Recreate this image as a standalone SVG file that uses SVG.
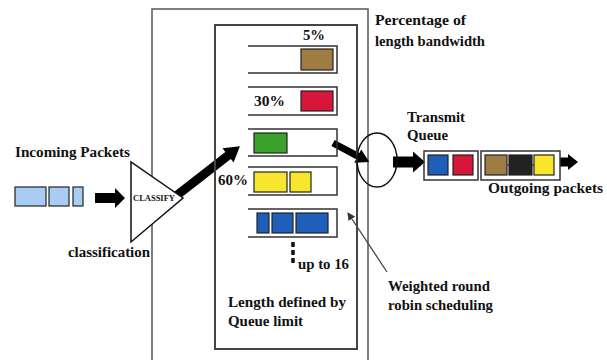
<svg xmlns="http://www.w3.org/2000/svg" width="607" height="360" viewBox="0 0 607 360">
<defs>
<style>
.t{font-family:"Liberation Serif","DejaVu Serif","Times New Roman",serif;font-weight:bold;font-size:14px;fill:#111}
.frame{fill:none;stroke:#555;stroke-width:1.5}
.bar{fill:none;stroke:#333;stroke-width:1.5}
.pk{stroke:#222;stroke-width:1.2}
.arr{fill:#000}
</style>
<marker id="ah" markerWidth="8" markerHeight="8" refX="7" refY="4" orient="auto" markerUnits="userSpaceOnUse">
<path d="M0,0 L8,4 L0,8 Z" fill="#333"/>
</marker>
</defs>
<rect width="607" height="360" fill="#fff"/>

<g id="router-frame">
<path class="frame" d="M152,360 V9 H368 V360"/>
</g>

<g id="connectors">
<polygon class="arr" points="95,193 115,193 115,188 125,198 115,208 115,203 95,203"/>
<polygon class="arr" transform="translate(176,196) rotate(-37.9)" points="0,-4.5 66,-4.5 66,-9 81,0 66,9 66,4.5 0,4.5"/>
<polygon class="arr" transform="translate(333,143) rotate(27.8)" points="0,-3.5 28,-3.5 28,-7.5 41,0 28,7.5 28,3.5 0,3.5"/>
<polygon class="arr" points="393,156.5 413,156.5 413,151.5 425,162 413,172.5 413,167.5 393,167.5"/>
<polygon class="arr" points="560,157.5 568,157.5 568,154 578,162 568,170 568,166.5 560,166.5"/>
<line x1="387" y1="272" x2="348" y2="213" stroke="#444" stroke-width="1.3" marker-end="url(#ah)"/>
</g>

<g id="queues">
<rect x="215" y="25" width="142" height="324" fill="none" stroke="#444" stroke-width="2"/>
<path class="bar" d="M248,46 H337 V73 H248"/>
<rect class="pk" x="301" y="49" width="32" height="21" fill="#a07c45"/>
<text class="t" x="303" y="40" textLength="22" lengthAdjust="spacingAndGlyphs">5%</text>
<path class="bar" d="M248,87 H337 V115 H248"/>
<rect class="pk" x="301" y="91" width="32" height="20" fill="#d8163a"/>
<text class="t" x="254" y="106" textLength="31" lengthAdjust="spacingAndGlyphs">30%</text>
<path class="bar" d="M248,129 H337 V156 H248"/>
<rect class="pk" x="254" y="133" width="33" height="20" fill="#3aa12a"/>
<path class="bar" d="M248,167 H337 V195 H248"/>
<rect class="pk" x="254" y="172" width="33" height="20" fill="#f7e52e"/>
<rect class="pk" x="290" y="172" width="21" height="20" fill="#f7e52e"/>
<text class="t" x="218" y="185" textLength="30" lengthAdjust="spacingAndGlyphs">60%</text>
<path class="bar" d="M248,209 H337 V237 H248"/>
<rect class="pk" x="257" y="213" width="12" height="20" fill="#1f5fba"/>
<rect class="pk" x="272" y="213" width="21" height="20" fill="#1f5fba"/>
<rect class="pk" x="296" y="213" width="32" height="20" fill="#1f5fba"/>
<line x1="293" y1="242" x2="293" y2="266" stroke="#111" stroke-width="3.5" stroke-dasharray="5,3"/>
<text class="t" x="298" y="269" textLength="51" lengthAdjust="spacingAndGlyphs">up to 16</text>
<text class="t" x="228" y="307" textLength="118" lengthAdjust="spacingAndGlyphs">Length defined by</text>
<text class="t" x="228" y="326" textLength="75" lengthAdjust="spacingAndGlyphs">Queue limit</text>
</g>

<g id="incoming">
<rect class="pk" x="15" y="187" width="31" height="19" fill="#a8ccf2"/>
<rect class="pk" x="49" y="187" width="20" height="19" fill="#a8ccf2"/>
<rect class="pk" x="73" y="187" width="10" height="19" fill="#a8ccf2"/>
<text class="t" x="15" y="157" textLength="115" lengthAdjust="spacingAndGlyphs">Incoming Packets</text>
</g>

<g id="classify">
<polygon points="131,162 131,242 183,198" fill="#fff" stroke="#111" stroke-width="1.5"/>
<text class="t" x="133" y="201" textLength="42" lengthAdjust="spacingAndGlyphs" style="font-size:9px">CLASSIFY</text>
<text class="t" x="68" y="257" textLength="82" lengthAdjust="spacingAndGlyphs">classification</text>
</g>

<g id="scheduler">
<ellipse cx="377" cy="160" rx="20" ry="27" fill="none" stroke="#111" stroke-width="1.5"/>
</g>

<g id="transmit-queue">
<rect x="424" y="151" width="54" height="29" fill="none" stroke="#333" stroke-width="1.5"/>
<rect class="pk" x="428" y="155" width="20" height="20" fill="#1f5fba"/>
<rect class="pk" x="453" y="155" width="20" height="20" fill="#d8163a"/>
<text class="t" x="407" y="122" textLength="58" lengthAdjust="spacingAndGlyphs">Transmit</text>
<text class="t" x="407" y="140" textLength="41" lengthAdjust="spacingAndGlyphs">Queue</text>
</g>

<g id="outgoing">
<rect x="481" y="151" width="79" height="29" fill="none" stroke="#333" stroke-width="1.5"/>
<line x1="485" y1="165" x2="554" y2="165" stroke="#333" stroke-width="1"/>
<rect class="pk" x="485" y="155" width="22" height="20" fill="#a07c45"/>
<rect class="pk" x="509" y="155" width="23" height="20" fill="#222"/>
<rect class="pk" x="534" y="155" width="20" height="20" fill="#f7e52e"/>
<text class="t" x="488" y="193" textLength="115" lengthAdjust="spacingAndGlyphs">Outgoing packets</text>
</g>

<g id="labels">
<text class="t" x="375" y="25" textLength="91" lengthAdjust="spacingAndGlyphs">Percentage of</text>
<text class="t" x="375" y="46" textLength="110" lengthAdjust="spacingAndGlyphs">length bandwidth</text>
<text class="t" x="388" y="291" textLength="102" lengthAdjust="spacingAndGlyphs">Weighted round</text>
<text class="t" x="388" y="310" textLength="105" lengthAdjust="spacingAndGlyphs">robin scheduling</text>
</g>
</svg>
